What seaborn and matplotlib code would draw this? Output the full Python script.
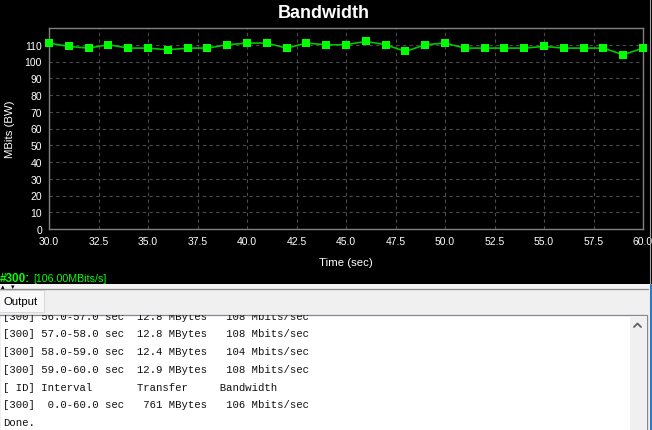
import numpy as np
import pandas as pd
import seaborn as sns
import matplotlib.pyplot as plt
from matplotlib.patches import Rectangle
from matplotlib.lines import Line2D

# Bandwidth samples (Mbits/s, one per second)
times = list(range(30, 61))
bandwidth = [111, 109, 108, 110, 108, 108, 107, 108, 108, 110,
             111, 111, 108, 111, 110, 110, 112, 110, 106, 110,
             111, 108, 108, 108, 108, 109, 108, 108, 108, 104, 108]

x_ticks = [30.0, 32.5, 35.0, 37.5, 40.0, 42.5, 45.0, 47.5, 50.0, 52.5, 55.0, 57.5, 60.0]
y_ticks = list(range(0, 111, 10))

status_id = "#300:"
status_value = "[106.00MBits/s]"

output_lines = [
    "[300] 56.0-57.0 sec  12.8 MBytes   108 Mbits/sec",
    "[300] 57.0-58.0 sec  12.8 MBytes   108 Mbits/sec",
    "[300] 58.0-59.0 sec  12.4 MBytes   104 Mbits/sec",
    "[300] 59.0-60.0 sec  12.9 MBytes   108 Mbits/sec",
    "[ ID] Interval       Transfer     Bandwidth",
    "[300]  0.0-60.0 sec   761 MBytes   106 Mbits/sec",
    "Done.",
]

df = pd.DataFrame({"Time": times, "BW": bandwidth})

sns.set_style("dark")
plt.rcParams["font.family"] = ["Liberation Sans", "DejaVu Sans"]

W, H = 652, 431
fig = plt.figure(figsize=(W / 100, H / 100), dpi=100)
fig.patch.set_facecolor("#f0f0f0")


def fx(px):
    return px / W


def fy(py):
    return 1 - py / H


def rect(x0, y0, x1, y1, **kw):
    r = Rectangle((fx(x0), fy(y1)), fx(x1) - fx(x0), (y1 - y0) / H,
                  transform=fig.transFigure, **kw)
    fig.add_artist(r)
    return r


def hline(y, x0, x1, color, lw=1.0):
    fig.add_artist(Line2D([fx(x0), fx(x1)], [fy(y), fy(y)], color=color,
                          lw=lw, transform=fig.transFigure))


def vline(x, y0, y1, color, lw=1.0):
    fig.add_artist(Line2D([fx(x), fx(x)], [fy(y0), fy(y1)], color=color,
                          lw=lw, transform=fig.transFigure))


# black graph panel
rect(0, 0, W, 286, facecolor="black", edgecolor="none", zorder=0)
# splitter strip
rect(0, 285, W, 289.5, facecolor="#f4f4f4", edgecolor="none", zorder=0)
hline(289.8, 0, 648, "#8a8a8a", lw=0.9)
fig.text(fx(1), fy(287.3), "\u25b4", fontsize=5, color="black", va="center", ha="left",
         family=["DejaVu Sans"])
fig.text(fx(11), fy(287.3), "\u25be", fontsize=5, color="black", va="center", ha="left",
         family=["DejaVu Sans"])

# Output tab
rect(-1, 290.5, 44, 313, facecolor="#f9f9f9", edgecolor="#d9d9d9", lw=0.8, zorder=1)
fig.text(fx(3), fy(301.8), "Output", fontsize=8.2, color="black", va="center", ha="left")

# text area
area = rect(-1, 316.5, 647, H + 2, facecolor="white", edgecolor="#828790", lw=0.9, zorder=1)
rect(630, 317.5, 646.5, H + 2, facecolor="#f0f0f0", edgecolor="none", zorder=2)
fig.add_artist(Line2D([fx(634), fx(637.5), fx(641)], [fy(328), fy(324.5), fy(328)],
                      color="#606060", lw=1.3, transform=fig.transFigure, zorder=3))

line_y0 = 316.6
for i, txt in enumerate(output_lines):
    t = fig.text(fx(3), fy(line_y0 + i * 17.75), txt, fontsize=7.65, color="#111111",
                 va="center", ha="left", family=["Liberation Mono", "DejaVu Sans Mono"],
                 zorder=3)
    t.set_clip_path(area)

# window edge
vline(649.5, 0, H, "#a0a0a0", lw=0.8)
vline(651.3, 286, H, "#1e7ad6", lw=1.4)

# graph
ax = fig.add_axes([fx(49), fy(230), fx(643) - fx(49), (230 - 29) / H])
ax.set_facecolor("black")
sns.lineplot(data=df, x="Time", y="BW", ax=ax, color="#00c800", lw=1.2,
             marker="s", markersize=5.4, markerfacecolor="#00ff00",
             markeredgewidth=0, zorder=3, clip_on=False)

ax.set_xlim(30, 60)
ax.set_ylim(0, 120)
ax.set_xticks(x_ticks)
ax.set_xticklabels([f"{v:.1f}" for v in x_ticks])
ax.set_yticks(y_ticks)
ax.grid(True, color="#4c4c4c", linestyle=(0, (3, 3)), linewidth=0.8)
ax.set_axisbelow(True)
for s in ax.spines.values():
    s.set_color("#808080")
    s.set_linewidth(1.0)
ax.tick_params(axis="both", colors="white", labelsize=7.5, length=3, width=0.8,
               color="#808080", pad=2)

ax.set_xlabel("Time (sec)", color="white", fontsize=8.2)
ax.set_ylabel("MBits (BW)", color="white", fontsize=8.2)
ax.xaxis.set_label_coords(0.5, (230 - 257.7) / 201)
ax.yaxis.set_label_coords((15 - 49) / 594, 0.5)

fig.text(0.497, fy(14), "Bandwidth", fontsize=13, fontweight="bold", color="white",
         ha="center", va="center")

# status line under the graph
fig.text(fx(0), fy(278.5), status_id, fontsize=8.5, fontweight="bold", color="#00ff00",
         ha="left", va="center")
fig.text(fx(33), fy(278.5), status_value, fontsize=7.7, color="#00ff00",
         ha="left", va="center")

fig.savefig("out.png", dpi=100, facecolor=fig.get_facecolor())
